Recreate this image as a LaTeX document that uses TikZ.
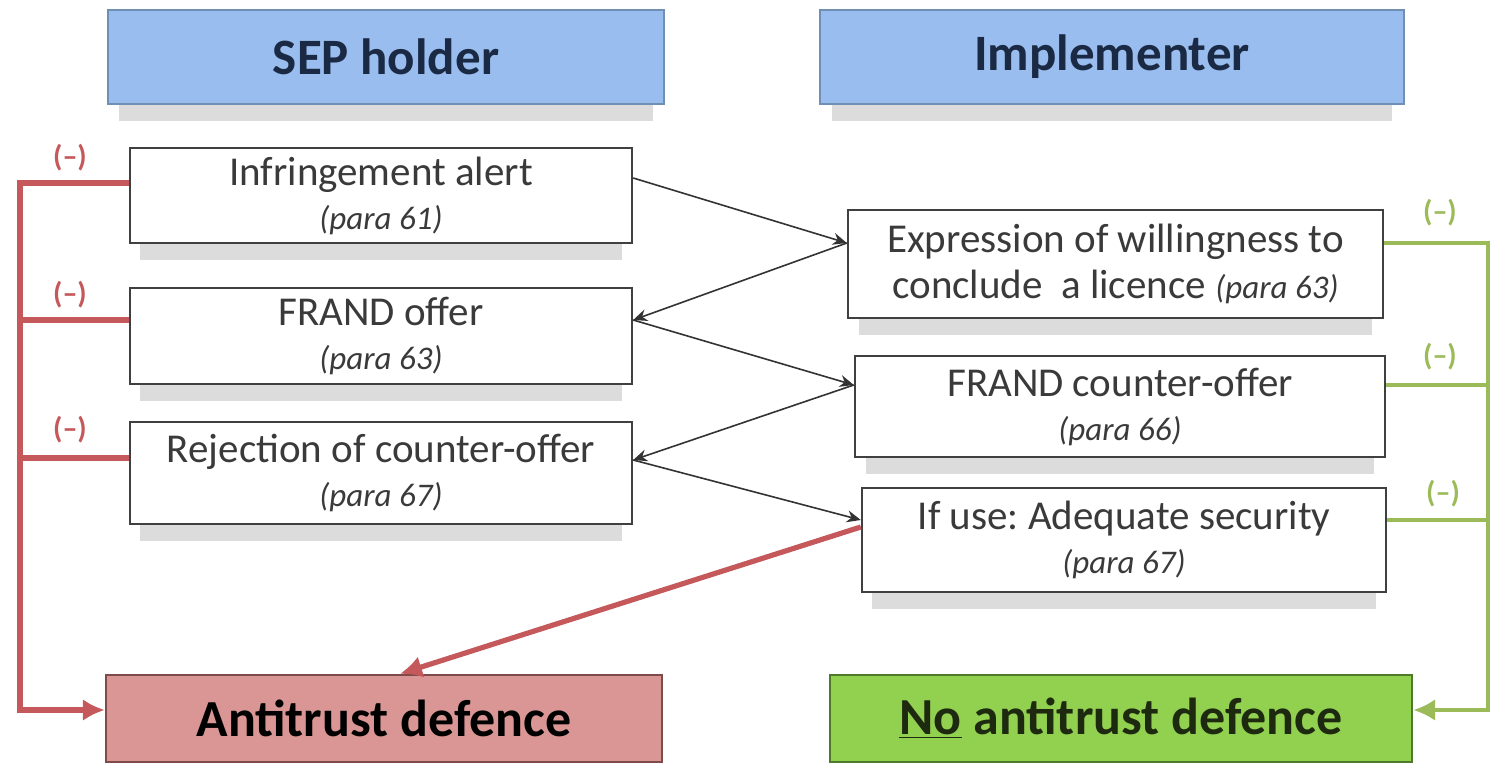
\documentclass[tikz,border=0pt]{standalone}
\usepackage{fontspec}
\setmainfont{Carlito}
\usetikzlibrary{arrows.meta,shadows,calc}
\definecolor{hdrfill}{HTML}{99BDEE}
\definecolor{hdrdraw}{HTML}{6F8FB5}
\definecolor{hdrtxt}{HTML}{1B2A44}
\definecolor{pinkfill}{HTML}{D99694}
\definecolor{pinkdraw}{HTML}{7F4A4A}
\definecolor{grfill}{HTML}{92D050}
\definecolor{grdraw}{HTML}{4E7A2A}
\definecolor{grtxt}{HTML}{1E2A10}
\definecolor{redline}{HTML}{C4585A}
\definecolor{grline}{HTML}{9BBB59}
\definecolor{txt}{HTML}{3A3A3A}
\tikzset{
  shad/.style={drop shadow={shadow xshift=0pt,shadow yshift=-10pt,shadow scale=0.96,fill=black!30,opacity=0.45}},
  stepbox/.style={draw=black!75,line width=1.2pt,fill=white,shad,inner sep=0pt,align=center,text=txt,font=\fontsize{20.5}{25}\selectfont},
  hdrbox/.style={draw=hdrdraw,line width=1.2pt,fill=hdrfill,shad,inner sep=0pt,align=center,text=hdrtxt,font=\fontsize{25.5}{29}\selectfont\bfseries},
  antibox/.style={draw=pinkdraw,line width=1.2pt,fill=pinkfill,inner sep=0pt,align=center,text=black,font=\fontsize{26}{30}\selectfont\bfseries},
  nobox/.style={draw=grdraw,line width=1.2pt,fill=grfill,inner sep=0pt,align=center,text=grtxt,font=\fontsize{26}{30}\selectfont\bfseries},
  blk/.style={draw=black!80,line width=0.8pt,-{Stealth[length=7pt,width=6pt]}},
  redl/.style={draw=redline,line width=2.6pt},
  grl/.style={draw=grline,line width=2.2pt},
  redlab/.style={text=redline,font=\fontsize{15}{18}\selectfont\bfseries},
  grlab/.style={text=grline,font=\fontsize{15}{18}\selectfont\bfseries},
}
\newcommand{\pa}[1]{{\fontsize{16.5}{20}\selectfont\itshape #1}}
\frenchspacing
\begin{document}
\begin{tikzpicture}[x=0.5pt,y=-0.5pt]
\useasboundingbox (0,0) rectangle (1494,765);
% headers
\node[hdrbox,minimum width=278pt,minimum height=47pt] (sep) at (386,57) {SEP holder};
\node[hdrbox,minimum width=292pt,minimum height=47pt] (imp) at (1112,57) {Implementer};
% left column
\node[stepbox,minimum width=251pt,minimum height=47.5pt] (inf) at (381,195.5) {Infringement alert\\[-3pt]\pa{(para 61)}};
\node[stepbox,minimum width=251pt,minimum height=48pt] (frand) at (381,336) {FRAND offer\\[-3pt]\pa{(para 63)}};
\node[stepbox,minimum width=251pt,minimum height=51pt] (rej) at (381,473) {Rejection of counter-offer\\[-3pt]\pa{(para 67)}};
% right column
\node[stepbox,minimum width=267.5pt,minimum height=54pt] (exp) at (1115.5,264) {Expression of willingness to\\[-2pt]conclude \ a licence \pa{(para 63)}};
\node[stepbox,minimum width=265pt,minimum height=50.5pt] (ctr) at (1120,406.5) {FRAND counter-offer\\[-3pt]\pa{(para 66)}};
\node[stepbox,minimum width=262pt,minimum height=52pt] (ifu) at (1124,540) {If use: Adequate security\\[-3pt]\pa{(para 67)}};
% outcomes
\node[antibox,minimum width=278pt,minimum height=43.5pt] (anti) at (384,718.5) {Antitrust defence};
\node[nobox,minimum width=291pt,minimum height=43.5pt] (no) at (1121,718.5) {\underline{No} antitrust defence};
% black arrows
\draw[blk] ([yshift=8.75pt]inf.east) -- ([yshift=10.5pt]exp.west);
\draw[blk] ([yshift=10.5pt]exp.west) -- ([yshift=8pt]frand.east);
\draw[blk] ([yshift=8pt]frand.east) -- ([yshift=10.75pt]ctr.west);
\draw[blk] ([yshift=10.75pt]ctr.west) -- ([yshift=6.5pt]rej.east);
\draw[blk] ([yshift=6.5pt]rej.east) -- ([yshift=10pt]ifu.west);
% red lines
\coordinate (rb) at (20,710);
\draw[redl,-{Latex[length=11pt,width=11pt]}] ([yshift=6.25pt]inf.west) -| (rb) -- ([yshift=4.25pt]anti.west);
\draw[redl] ([yshift=8pt]frand.west) -- +(-110,0);
\draw[redl] ([yshift=7.5pt]rej.west) -- +(-110,0);
\draw[redl,-{Latex[length=11pt,width=11pt]}] ([yshift=6.5pt]ifu.west) -- ([xshift=8pt]anti.north);
\node[redlab] (r1) at (70,158) {(–)};
\node[redlab] (r2) at (70,295) {(–)};
\node[redlab] (r3) at (70,430) {(–)};
% green lines
\coordinate (gb) at (1488,710);
\draw[grl,-{Latex[length=11pt,width=11pt]}] ([yshift=10.5pt]exp.east) -| (gb) -- ([yshift=4.25pt]no.east);
\draw[grl] ([yshift=10.75pt]ctr.east) -- +(103,0);
\draw[grl] ([yshift=10pt]ifu.east) -- +(102,0);
\node[grlab] (g1) at (1440,213) {(–)};
\node[grlab] (g2) at (1440,357) {(–)};
\node[grlab] (g3) at (1443,494) {(–)};
\end{tikzpicture}
\end{document}
